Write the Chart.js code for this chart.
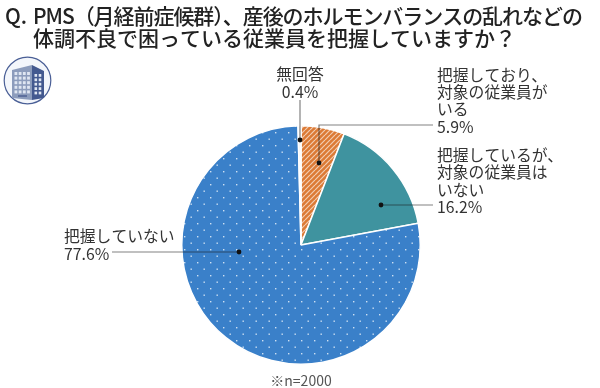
<!DOCTYPE html>
<html lang="ja"><head><meta charset="utf-8">
<style>html,body{margin:0;padding:0;background:#fff;overflow:hidden}#w{width:600px;height:388px;position:relative}</style>
<script src="https://cdn.jsdelivr.net/npm/chart.js@4/dist/chart.umd.min.js"></script>
</head><body><div id="w"><canvas id="c" width="600" height="388"></canvas></div>
<script>
const categories = ["把握しており、対象の従業員がいる","把握しているが、対象の従業員はいない","把握していない","無回答"];
const values = [5.9,16.2,77.6,0.4];
const titleLines = ["PMS（月経前症候群）、産後のホルモンバランスの乱れなどの","体調不良で困っている従業員を把握していますか？"];
const note = "※n=2000";
const labelLines = [["把握しており、","対象の従業員が","いる","5.9%"],["把握しているが、","対象の従業員は","いない","16.2%"],["把握していない","77.6%"],["無回答","0.4%"]];
const FONT='"Noto Sans CJK JP","Noto Sans",sans-serif';

function tile(w,h,draw){const t=document.createElement('canvas');t.width=w;t.height=h;const g=t.getContext('2d');draw(g,w,h);return document.getElementById('c').getContext('2d').createPattern(t,'repeat');}
const hatch=tile(5,5,(g,w,h)=>{g.fillStyle='#dc7a35';g.fillRect(0,0,w,h);g.strokeStyle='rgba(255,255,255,.62)';g.lineWidth=1.2;
  for(const o of [-5,0,5]){g.beginPath();g.moveTo(o,h);g.lineTo(o+w,0);g.stroke();}});
const dots=tile(13,13,(g,w,h)=>{g.fillStyle='#3a80c9';g.fillRect(0,0,w,h);g.fillStyle='rgba(255,255,255,.75)';
  g.fillRect(2,2,1.4,1.4);g.fillRect(8.5,8.5,1.4,1.4);});

function building(ctx){
  ctx.save();
  ctx.beginPath();ctx.arc(27.5,80.5,23.3,0,Math.PI*2);ctx.fillStyle='#f3f6fb';ctx.fill();ctx.lineWidth=1.2;ctx.strokeStyle='#4a5f96';ctx.stroke();
  ctx.clip();
  ctx.fillStyle='#8c9cbc';ctx.beginPath();ctx.moveTo(12,70);ctx.lineTo(32,65);ctx.lineTo(32,100);ctx.lineTo(12,98);ctx.closePath();ctx.fill();
  ctx.fillStyle='#43598f';ctx.beginPath();ctx.moveTo(32,65);ctx.lineTo(44,71);ctx.lineTo(44,98);ctx.lineTo(32,100);ctx.closePath();ctx.fill();
  ctx.fillStyle='#dfe6f2';
  for(let r=0;r<5;r++){for(let i=0;i<4;i++)ctx.fillRect(14.5+i*4.2,72+r*4.6,2.8,3);}
  for(let r=0;r<5;r++){for(let i=0;i<2;i++)ctx.fillRect(34.5+i*4.2,74+r*4.4,2.6,2.8);}
  ctx.fillStyle='#5d6f9d';ctx.fillRect(18,95,9,2);
  ctx.restore();
}

const annotate={id:'annotate',afterDatasetsDraw(chart){
  const ctx=chart.ctx,a=chart.getDatasetMeta(0).data[0],cx=a.x,cy=a.y;
  ctx.save();
  const leaders=[
    [[132,-120],[18,-120],[18,-82]],
    [[132,-40],[80,-40]],
    [[-189,7],[-62,7]],
    [[-1,-145],[-1,-105]]
  ];
  for(const p of leaders){
    ctx.strokeStyle='rgba(25,25,25,.55)';ctx.lineWidth=1.2;ctx.beginPath();
    p.forEach((q,i)=>{const x=cx+q[0],y=cy+q[1];i?ctx.lineTo(x,y):ctx.moveTo(x,y);});ctx.stroke();
    const e=p[p.length-1];ctx.fillStyle='#111';ctx.beginPath();ctx.arc(cx+e[0],cy+e[1],2.4,0,Math.PI*2);ctx.fill();
  }
  ctx.textBaseline='alphabetic';
  ctx.fillStyle='#222';ctx.textAlign='left';ctx.font='500 21px '+FONT;
  ctx.fillText('Q.',5,24);
  ctx.letterSpacing='-1.05px';
  ctx.fillText(titleLines[0],33,24);
  ctx.letterSpacing='0px';
  ctx.fillText(titleLines[1],33,46);
  ctx.fillStyle='#333';ctx.font='15.8px '+FONT;
  const place=[[437,81,17.2,'left'],[437,161,17.4,'left'],[64,242,17.5,'left'],[300,80,17.5,'center']];
  labelLines.forEach((ls,i)=>{const [x,y,lh,al]=place[i];ctx.textAlign=al;ls.forEach((t,j)=>ctx.fillText(t,x,y+j*lh));});
  ctx.textAlign='center';ctx.fillStyle='#555';ctx.font='14px '+FONT;ctx.fillText(note,cx,386);
  building(ctx);
  ctx.restore();
}};

new Chart(document.getElementById('c'),{
  type:'pie',
  data:{labels:categories,datasets:[{data:values,backgroundColor:[hatch,'#3f939f',dots,'#f4f4f4'],borderColor:'#fff',borderWidth:1.5}]},
  options:{responsive:false,animation:false,
    layout:{padding:{left:181,right:179,top:125,bottom:23}},
    plugins:{legend:{display:false},tooltip:{enabled:false},title:{display:false}}},
  plugins:[annotate]
});
</script></body></html>
